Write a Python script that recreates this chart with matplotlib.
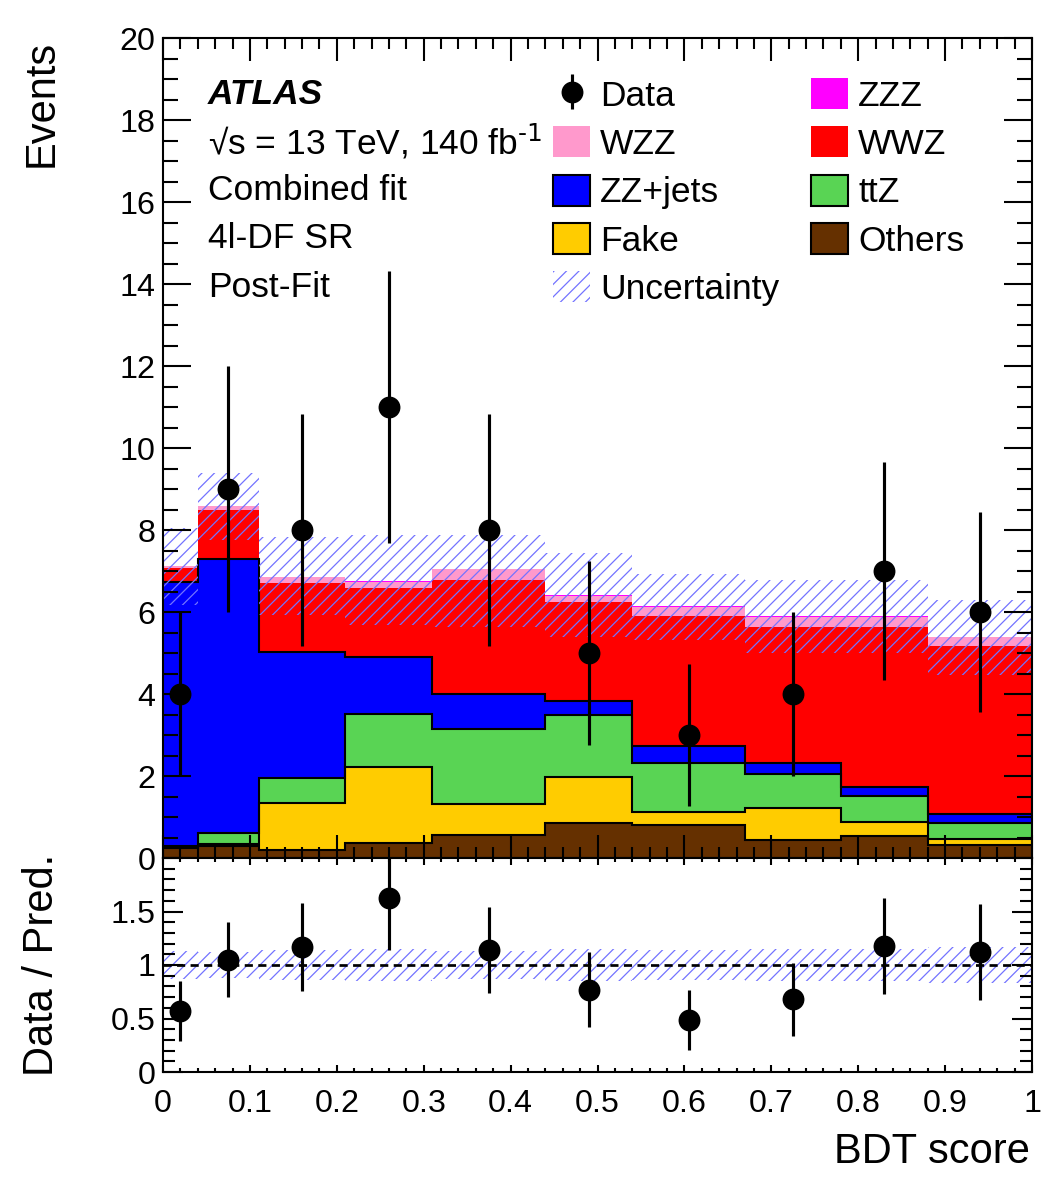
import numpy as np
import matplotlib
matplotlib.use("Agg")
import matplotlib.pyplot as plt
from matplotlib.patches import Patch
from matplotlib.ticker import MultipleLocator

plt.rcParams['font.family'] = ['Liberation Sans', 'DejaVu Sans']
plt.rcParams['mathtext.default'] = 'regular'
plt.rcParams['hatch.linewidth'] = 0.6

# BDT score binning
edges = [0.0, 0.04, 0.11, 0.21, 0.31, 0.44, 0.54, 0.67, 0.78, 0.88, 1.0]

# post-fit yields per bin (bottom of the stack first)
others = [0.25, 0.30, 0.20, 0.36, 0.56, 0.85, 0.80, 0.44, 0.54, 0.32]
fake = [0.03, 0.03, 1.14, 1.86, 0.76, 1.13, 0.33, 0.78, 0.35, 0.14]
ttz = [0.02, 0.27, 0.62, 1.29, 1.82, 1.51, 1.18, 0.83, 0.62, 0.40]
zzjets = [6.44, 6.70, 3.07, 1.40, 0.86, 0.35, 0.41, 0.26, 0.23, 0.21]
wwz = [0.33, 1.19, 1.68, 1.68, 2.78, 2.41, 3.18, 3.33, 3.90, 4.10]
wzz = [0.05, 0.09, 0.14, 0.15, 0.27, 0.15, 0.23, 0.25, 0.25, 0.22]
zzz = [0.0, 0.0, 0.01, 0.01, 0.01, 0.01, 0.01, 0.01, 0.01, 0.01]

# total uncertainty band (lower / upper edge)
unc_lo = [6.17, 7.76, 5.93, 5.68, 5.64, 5.40, 5.32, 5.00, 5.00, 4.46]
unc_hi = [8.05, 9.39, 7.83, 7.88, 7.88, 7.43, 6.93, 6.78, 6.78, 6.29]

# data
x_data = [0.02, 0.075, 0.16, 0.26, 0.375, 0.49, 0.605, 0.725, 0.83, 0.94]
data = [4, 9, 8, 11, 8, 5, 3, 4, 7, 6]
data_err = [2.0, 3.0, 2.83, 3.32, 2.83, 2.24, 1.73, 2.0, 2.65, 2.45]

# ratio panel
ratio = [0.57, 1.05, 1.17, 1.63, 1.14, 0.77, 0.49, 0.68, 1.18, 1.12]
ratio_err = [0.28, 0.35, 0.41, 0.49, 0.40, 0.35, 0.28, 0.34, 0.45, 0.45]
ratio_unc_lo = [0.87, 0.88, 0.86, 0.85, 0.87, 0.85, 0.86, 0.85, 0.85, 0.83]
ratio_unc_hi = [1.13, 1.12, 1.14, 1.15, 1.13, 1.15, 1.14, 1.15, 1.15, 1.17]

stack = [
    ("Others", others, "#653000", True),
    ("Fake", fake, "#ffcc00", True),
    ("ttZ", ttz, "#59d454", True),
    ("ZZ+jets", zzjets, "#0000ff", True),
    ("WWZ", wwz, "#ff0000", False),
    ("WZZ", wzz, "#ff99cc", False),
    ("ZZZ", zzz, "#ff00ff", False),
]
hatch_col = "#7373ff"
hatch = "////"

fig = plt.figure(figsize=(7.0, 1183 / 150), dpi=150)
ax = fig.add_axes([163 / 1050, 1 - 858 / 1183, 869 / 1050, 820 / 1183])
rax = fig.add_axes([163 / 1050, 1 - 1072 / 1183, 869 / 1050, 214 / 1183])

# stacked histograms
base = np.zeros(len(others))
tops = []
for name, vals, col, outline in stack:
    top = base + np.array(vals)
    ax.stairs(top, edges, baseline=base, fill=True, color=col, lw=0)
    tops.append((top, outline))
    base = top
for top, outline in tops:
    if outline:
        ax.stairs(top, edges, baseline=None, color="black", lw=1.0)

ax.stairs(unc_hi, edges, baseline=unc_lo, fill=True, facecolor="none",
          edgecolor=hatch_col, hatch=hatch, lw=0)

dat = ax.errorbar(x_data, data, yerr=data_err, fmt="o", color="black",
                  ms=9.5, lw=1.5, capsize=0)

ax.set_xlim(0, 1)
ax.set_ylim(0, 20)
ax.xaxis.set_major_locator(MultipleLocator(0.1))
ax.xaxis.set_minor_locator(MultipleLocator(0.02))
ax.yaxis.set_major_locator(MultipleLocator(2))
ax.yaxis.set_minor_locator(MultipleLocator(0.5))
ax.tick_params(which="both", direction="in", top=True, right=True,
               labelbottom=False, labelsize=15.5, width=1, pad=3.5)
ax.tick_params(axis="y", which="major", length=13.4)
ax.tick_params(axis="y", which="minor", length=7.2)
ax.tick_params(axis="x", which="major", length=11)
ax.tick_params(axis="x", which="minor", length=5.3)

# legend
h = {name: Patch(facecolor=col, edgecolor="black" if outline else col,
                 lw=1.0 if outline else 0)
     for name, vals, col, outline in stack}
unc_h = Patch(facecolor="none", edgecolor=hatch_col, hatch=hatch, lw=0)
handles = [dat, h["WZZ"], h["ZZ+jets"], h["Fake"], unc_h,
           h["ZZZ"], h["WWZ"], h["ttZ"], h["Others"]]
labels = ["Data", "WZZ", "ZZ+jets", "Fake", "Uncertainty",
          "ZZZ", "WWZ", "ttZ", "Others"]
ax.legend(handles, labels, ncol=2, loc="upper left",
          bbox_to_anchor=((553 - 163) / 869, (858 - 78) / 820),
          frameon=False, fontsize=17, borderpad=0, borderaxespad=0,
          handlelength=1.05, handleheight=0.96, handletextpad=0.28,
          columnspacing=0.9, labelspacing=0.39)

# labels
tx = (208 - 163) / 869
ax.text(tx, (858 - 94) / 820, "ATLAS", transform=ax.transAxes, fontsize=17,
        fontweight="bold", fontstyle="italic", va="center")
info = ["\u221as = 13 TeV, 140 fb$^{\\text{-1}}$", "Combined fit",
        "4l-DF SR", "Post-Fit"]
for i, line in enumerate(info):
    ax.text(tx, (858 - 142 - 48.5 * i) / 820, line, transform=ax.transAxes,
            fontsize=17, va="center")

# ratio panel
rax.stairs(ratio_unc_hi, edges, baseline=ratio_unc_lo, fill=True,
           facecolor="none", edgecolor=hatch_col, hatch=hatch, lw=0)
rax.axhline(1, color="black", lw=1.3, ls=(0, (3, 2)))
rax.errorbar(x_data, ratio, yerr=ratio_err, fmt="o", color="black",
             ms=9.5, lw=1.5, capsize=0)
rax.set_xlim(0, 1)
rax.set_ylim(0, 2)
rax.set_yticks([0, 0.5, 1, 1.5, 2])
rax.set_yticklabels(["0", "0.5", "1", "1.5", ""])
rax.set_xticks(np.arange(0, 1.01, 0.1))
rax.set_xticklabels(["0", "0.1", "0.2", "0.3", "0.4", "0.5", "0.6", "0.7",
                     "0.8", "0.9", "1"])
rax.xaxis.set_minor_locator(MultipleLocator(0.02))
rax.yaxis.set_minor_locator(MultipleLocator(0.1))
rax.tick_params(which="both", direction="in", top=True, right=True,
                labelsize=15.5, width=1)
rax.tick_params(axis="y", which="major", length=9.6, pad=3.5)
rax.tick_params(axis="y", which="minor", length=5.8)
rax.tick_params(axis="x", which="major", length=3.4, pad=8)
rax.tick_params(axis="x", which="minor", length=1.9)

for a in (ax, rax):
    for s in a.spines.values():
        s.set_linewidth(1.0)

fig.text(42 / 1050, 1 - 40 / 1183, "Events", rotation=90, ha="center",
         va="top", fontsize=20)
fig.text(42 / 1050, 1 - 965 / 1183, "Data / Pred.", rotation=90,
         ha="center", va="center", fontsize=20)
fig.text(1030 / 1050, 1 - 1152 / 1183, "BDT score", ha="right",
         va="center", fontsize=20)

fig.savefig("out.png", dpi=150)
